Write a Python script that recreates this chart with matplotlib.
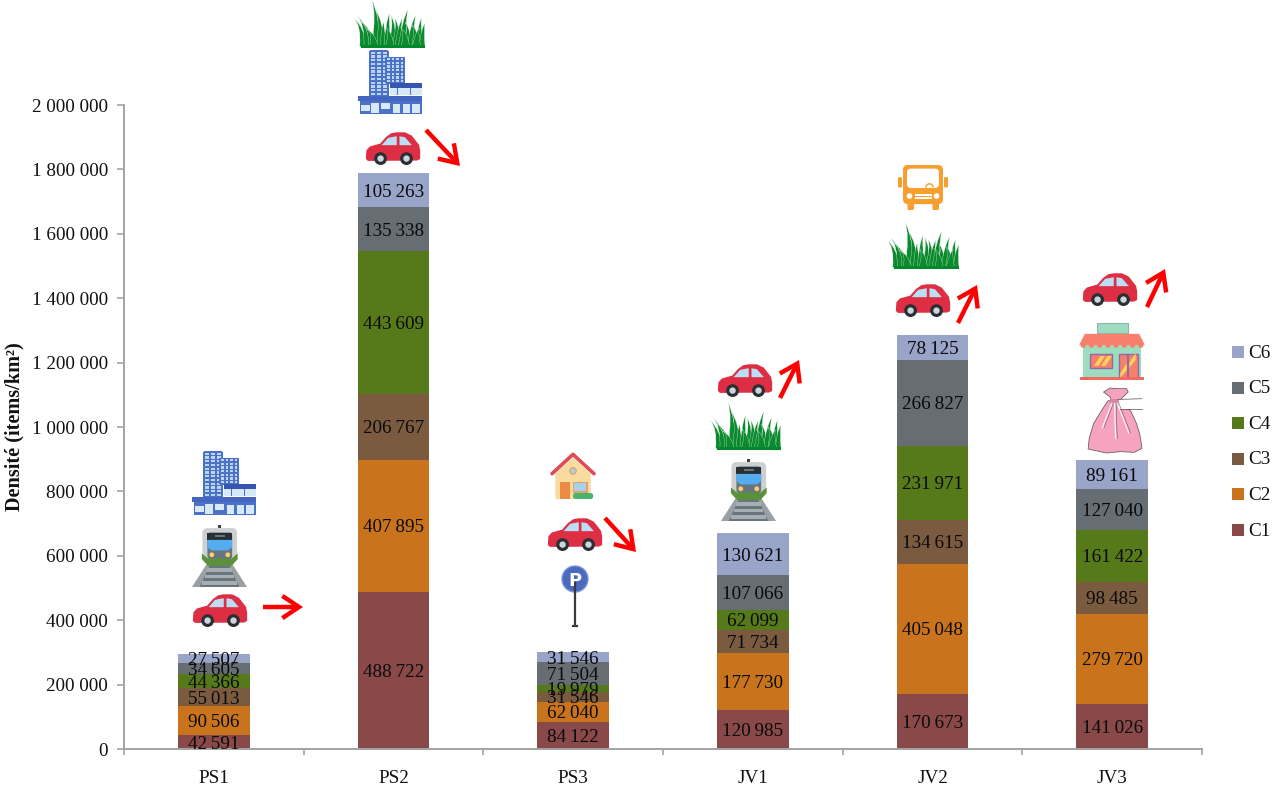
import numpy as np
import matplotlib
matplotlib.use("Agg")
import matplotlib.pyplot as plt
from matplotlib.patches import Polygon, Circle, FancyBboxPatch, Rectangle, PathPatch, FancyArrowPatch, Wedge
from matplotlib.path import Path

plt.rcParams["font.family"] = ["Liberation Serif", "DejaVu Serif"]

# Densities per site and class
sites = ["PS1", "PS2", "PS3", "JV1", "JV2", "JV3"]
C1 = [42591, 488722, 84122, 120985, 170673, 141026]
C2 = [90506, 407895, 62040, 177730, 405048, 279720]
C3 = [55013, 206767, 31546, 71734, 134615, 98485]
C4 = [44366, 443609, 19979, 62099, 231971, 161422]
C5 = [34605, 135338, 71504, 107066, 266827, 127040]
C6 = [27507, 105263, 31546, 130621, 78125, 89161]
class_names = ["C1", "C2", "C3", "C4", "C5", "C6"]
class_values = [C1, C2, C3, C4, C5, C6]
class_colors = ["#8A4949", "#C9741D", "#7A5B40", "#567A1A", "#666E74", "#99A4C9"]
y_ticks = [0, 200000, 400000, 600000, 800000, 1000000, 1200000, 1400000,
           1600000, 1800000, 2000000]

W, H = 1278, 789
AX_L, AX_R, AX_T, AX_B = 124, 1202, 105, 749
GREY = "#A3A3A3"
TEXT = "#111111"
FS = 13.8


def spaced(v, sep=" "):
    return f"{v:,}".replace(",", sep)


fig = plt.figure(figsize=(W / 100, H / 100), dpi=100, facecolor="white")
ax = fig.add_axes([AX_L / W, 1 - AX_B / H, (AX_R - AX_L) / W, (AX_B - AX_T) / H])

x = np.arange(len(sites))
bottom = np.zeros(len(sites))
for name, vals, col in zip(class_names, class_values, class_colors):
    vals = np.array(vals)
    ax.bar(x, vals, 0.4, bottom=bottom, color=col, label=name, linewidth=0)
    for xi, b, v in zip(x, bottom, vals):
        ax.text(xi, b + v / 2, spaced(int(v), "\u2009"), ha="center", va="center_baseline",
                fontsize=FS, color="#0A0A0A")
    bottom = bottom + vals

ax.set_xlim(-0.5, 5.5)
ax.set_ylim(0, 2000000)
ax.set_yticks(y_ticks)
ax.set_yticklabels([spaced(v) for v in y_ticks], fontsize=FS, color=TEXT)
ax.set_xticks(np.arange(-0.5, 6, 1))
ax.set_xticklabels([])
ax.set_xticks(x, minor=True)
ax.set_xticklabels(sites, minor=True, fontsize=FS, color=TEXT)
ax.tick_params(axis="x", which="minor", length=0, pad=15)
ax.tick_params(axis="x", which="major", length=4.3, width=1.2, color=GREY)
ax.tick_params(axis="y", length=5, width=1.2, color=GREY, pad=6.5)
for s in ("top", "right"):
    ax.spines[s].set_visible(False)
for s in ("left", "bottom"):
    ax.spines[s].set_color(GREY)
    ax.spines[s].set_linewidth(1.4)

# Class key, top class first
for i, (name, col) in enumerate(zip(class_names[::-1], class_colors[::-1])):
    ly = 352 + i * 35.6
    fig.patches.append(Rectangle((1232 / W, 1 - (ly + 6) / H), 12 / W, 12 / H,
                                 transform=fig.transFigure, color=col, linewidth=0))
    fig.text(1248 / W, 1 - (ly + 1) / H, name, fontsize=FS, color=TEXT, va="center", ha="left")

fig.text(14 / W, 1 - 427 / H, "Densité (items/km²)", rotation=90, fontsize=14.6,
         fontweight="bold", ha="center", va="center", color=TEXT)

# Overlay in pixel units for the pictograms
ov = fig.add_axes([0, 0, 1, 1], zorder=5)
ov.set_xlim(0, W)
ov.set_ylim(H, 0)
ov.axis("off")
ov.patch.set_alpha(0)


def box(x0, y0, w, h):
    """Map unit coordinates inside a pixel box to overlay coordinates."""
    return lambda pts: [(x0 + w * u, y0 + h * v) for u, v in pts]


def poly(pts, fc, ec=None, lw=0, **kw):
    ov.add_patch(Polygon(pts, closed=True, facecolor=fc, edgecolor=ec or fc, linewidth=lw,
                         joinstyle="round", **kw))


def rect(m, u0, v0, u1, v1, fc, **kw):
    poly(m([(u0, v0), (u1, v0), (u1, v1), (u0, v1)]), fc, **kw)


def rrect(m, u0, v0, u1, v1, r, fc, ec="none", lw=0):
    (a, b), (c, d) = m([(u0, v0), (u1, v1)])
    ov.add_patch(FancyBboxPatch((a + r, b + r), c - a - 2 * r, d - b - 2 * r,
                                boxstyle=f"round,pad={r},rounding_size={r}",
                                facecolor=fc, edgecolor=ec, linewidth=lw))


def car(x0, y0, w=54, h=32):
    m = box(x0, y0, w, h)
    poly(m([(0.01, 0.80), (0.02, 0.55), (0.08, 0.44), (0.27, 0.35), (0.38, 0.14), (0.47, 0.03),
            (0.56, 0.0), (0.72, 0.0), (0.84, 0.10), (0.97, 0.38), (0.99, 0.55), (0.99, 0.80),
            (0.94, 0.84), (0.04, 0.85)]), "#DD2E44", lw=1.0)
    poly(m([(0.29, 0.38), (0.41, 0.15), (0.57, 0.10), (0.57, 0.38)]), "#BBDDF5")
    poly(m([(0.62, 0.10), (0.72, 0.13), (0.85, 0.38), (0.62, 0.38)]), "#BBDDF5")
    for u in (0.27, 0.75):
        cx, cy = m([(u, 0.80)])[0]
        ov.add_patch(Circle((cx, cy), h * 0.2, fc="#292F33", ec="none"))
        ov.add_patch(Circle((cx, cy), h * 0.1, fc="#CCD6DD", ec="none"))


def train(x0, y0, w=55, h=62):
    m = box(x0, y0, w, h)
    poly(m([(0.0, 1.0), (0.26, 0.64), (0.74, 0.64), (1.0, 1.0)]), "#9AA0A4")
    poly(m([(0.14, 1.0), (0.33, 0.64), (0.67, 0.64), (0.86, 1.0)]), "#66757F")
    for v0, v1, sh in ((0.70, 0.76, 0.02), (0.80, 0.86, 0.07), (0.91, 0.97, 0.12)):
        rect(m, 0.30 - sh, v0, 0.70 + sh, v1, "#A8ADB0")
    rect(m, 0.47, 0.0, 0.53, 0.05, "#3A4045")
    rrect(m, 0.19, 0.05, 0.82, 0.60, 5, "#CCD0D3")
    rrect(m, 0.28, 0.12, 0.73, 0.55, 3, "#66757F")
    rect(m, 0.28, 0.13, 0.73, 0.24, "#292F33")
    rect(m, 0.41, 0.16, 0.60, 0.20, "#66757F")
    poly(m([(0.28, 0.24), (0.73, 0.24), (0.73, 0.36), (0.65, 0.41), (0.36, 0.41), (0.28, 0.36)]),
         "#55ACEE")
    for u in (0.36, 0.65):
        ov.add_patch(Circle(m([(u, 0.48)])[0], 2.4, fc="#FFCC66", ec="none"))
    poly(m([(0.18, 0.46), (0.29, 0.54), (0.72, 0.54), (0.83, 0.46), (0.83, 0.55), (0.72, 0.66),
            (0.29, 0.66), (0.18, 0.55)]), "#5C913B")


def building(x0, y0, w=64, h=63):
    m = box(x0, y0, w, h)
    blue, pale, deep = "#4C72C8", "#BCD6F2", "#3555B0"
    for u0, u1, v0, v1, nc, nr in ((0.185, 0.47, 0.0, 0.71, 3, 12), (0.44, 0.72, 0.10, 0.51, 4, 7)):
        rect(m, u0, v0, u1, v1, pale)
        for uu in np.linspace(u0, u1, nc + 1):
            rect(m, uu - 0.017, v0, uu + 0.017, v1, blue)
        for vv in np.linspace(v0, v1, nr + 1):
            rect(m, u0, vv - 0.011, u1, vv + 0.011, blue)
    rect(m, 0.50, 0.50, 1.0, 0.59, deep)
    rect(m, 0.50, 0.59, 1.0, 0.70, "#D5E9F8")
    for u in (0.62, 0.82):
        rect(m, u - 0.006, 0.59, u + 0.006, 0.70, blue)
    rect(m, 0.0, 0.71, 1.0, 0.80, "#4466C0")
    rect(m, 0.03, 0.80, 1.0, 1.0, blue)
    for u0, u1, v0, v1 in ((0.05, 0.18, 0.86, 0.96), (0.21, 0.33, 0.83, 0.99), (0.36, 0.50, 0.83, 0.92),
                           (0.55, 0.66, 0.84, 0.99), (0.70, 0.82, 0.84, 0.99), (0.85, 0.97, 0.84, 0.99)):
        rect(m, u0, v0, u1, v1, "#D5E9F8")


# Blades: base position, tip position, tip height, half width at the base
GRASS_BLADES = [(0.13, 0.0, 0.62, 0.05), (0.19, 0.04, 0.68, 0.05), (0.25, 0.10, 0.55, 0.045),
                (0.31, 0.25, 1.0, 0.06), (0.37, 0.30, 0.80, 0.055), (0.42, 0.42, 0.55, 0.05),
                (0.47, 0.50, 0.72, 0.05), (0.53, 0.52, 0.68, 0.05), (0.58, 0.57, 0.64, 0.05),
                (0.63, 0.68, 0.62, 0.05), (0.68, 0.76, 0.80, 0.055), (0.74, 0.72, 0.54, 0.05),
                (0.80, 0.87, 0.68, 0.05), (0.86, 0.80, 0.52, 0.05), (0.92, 0.95, 0.62, 0.05),
                (0.96, 1.0, 0.52, 0.04), (0.50, 0.44, 0.45, 0.06), (0.72, 0.65, 0.44, 0.06),
                (0.88, 0.92, 0.42, 0.06), (0.28, 0.18, 0.40, 0.06)]


def grass(x0, y0, w=71, h=48):
    m = box(x0, y0, w, h)
    col = "#0B8A2E"
    for bu, tu, th, hw in GRASS_BLADES:
        lean = 0.05 if tu < bu else -0.03
        (a, b), (c, d), (e, f), (g, k), (g2, k2) = m([(bu - hw, 0.97), (tu, 1 - th), (bu + hw, 0.97),
                                                      ((bu + tu) / 2 - 0.01 + lean, 1 - th * 0.75),
                                                      ((bu + tu) / 2 + 0.03 + lean, 1 - th * 0.7)])
        verts = [(a, b), (g, k), (c, d), (g2, k2), (e, f), (a, b)]
        codes = [Path.MOVETO, Path.CURVE3, Path.CURVE3, Path.CURVE3, Path.CURVE3, Path.CLOSEPOLY]
        ov.add_patch(PathPatch(Path(verts, codes), fc=col, ec="white", lw=0.2))
    rect(m, 0.10, 0.93, 1.0, 1.0, "#00882B")


def bus(x0, y0, w=50, h=45):
    m = box(x0, y0, w, h)
    col = "#F79F2E"
    rrect(m, 0.0, 0.27, 0.08, 0.50, 1.2, col)
    rrect(m, 0.92, 0.27, 1.0, 0.50, 1.2, col)
    rrect(m, 0.19, 0.85, 0.32, 1.0, 1.5, col)
    rrect(m, 0.69, 0.85, 0.82, 1.0, 1.5, col)
    rrect(m, 0.10, 0.0, 0.90, 0.87, 5, col)
    rrect(m, 0.18, 0.08, 0.82, 0.51, 4, "white")
    ov.add_patch(Wedge(m([(0.63, 0.50)])[0], 4.4, 180, 360, width=1.5, fc=col))
    for u in (0.23, 0.77):
        ov.add_patch(Circle(m([(u, 0.69)])[0], 2.8, fc="white", ec="none"))
    rect(m, 0.33, 0.64, 0.67, 0.68, "white")
    rect(m, 0.33, 0.72, 0.67, 0.76, "white")


def house(x0, y0, w=42, h=46):
    m = box(x0, y0, w, h)
    poly(m([(0.08, 0.45), (0.5, 0.1), (0.92, 0.45), (0.92, 1.0), (0.08, 1.0)]), "#FADB9F")
    ov.plot(*zip(*m([(0.0, 0.45), (0.5, 0.03), (1.0, 0.45)])), color="#DD4B55", lw=2.6,
            solid_capstyle="round", solid_joinstyle="round")
    ov.add_patch(Circle(m([(0.5, 0.39)])[0], 3.2, fc="#A6D1EE", ec="#E79A55", lw=0.8))
    rect(m, 0.19, 0.62, 0.43, 0.99, "#EC8A42")
    rect(m, 0.50, 0.62, 0.85, 0.86, "#E9A063")
    rect(m, 0.53, 0.66, 0.82, 0.82, "#A6D1EE")
    rrect(m, 0.50, 0.87, 0.98, 1.0, 2.5, "#49B56C")


def parking(cx, cy, bottom_y, r=13):
    ov.plot([cx, cx], [cy, bottom_y], color="#3A3A3A", lw=1.6, solid_capstyle="butt")
    ov.plot([cx - 2, cx + 2], [bottom_y, bottom_y], color="#3A3A3A", lw=1.6)
    ov.add_patch(Circle((cx, cy), r, fc="#4A69BF", ec="#7D96D6", lw=1))
    ov.text(cx, cy, "P", color="white", fontsize=13, fontweight="bold", ha="center",
            va="center_baseline", family="DejaVu Sans")


def shop(x0, y0, w=64, h=57):
    m = box(x0, y0, w, h)
    mint, coral, frame = "#9EDCBF", "#F6806C", "#8E6BA8"
    rect(m, 0.27, 0.0, 0.75, 0.17, mint, ec="#8FB7B0", lw=0.8)
    rect(m, 0.05, 0.38, 0.95, 0.97, mint)
    poly(m([(0.08, 0.20), (0.92, 0.20), (1.0, 0.38), (0.0, 0.38)]), coral, lw=0.8)
    for u in np.linspace(0.05, 0.95, 8):
        ov.add_patch(Circle(m([(u, 0.39)])[0], 2.6, fc=coral, ec="none"))
    rect(m, 0.16, 0.54, 0.50, 0.79, coral, ec=frame, lw=1.0)
    for u in (0.27, 0.38):
        poly(m([(u - 0.05, 0.75), (u + 0.02, 0.75), (u + 0.12, 0.58), (u + 0.05, 0.58)]), "#FFD45E")
    rect(m, 0.61, 0.54, 0.90, 0.97, coral, ec=frame, lw=1.0)
    rect(m, 0.74, 0.54, 0.765, 0.97, frame)
    for u, v in ((0.68, 0.88), (0.82, 0.70)):
        poly(m([(u - 0.05, v), (u + 0.05, v - 0.17), (u + 0.05, v - 0.05), (u - 0.05, v + 0.08)]), "#FFD45E")
    rect(m, 0.0, 0.95, 1.0, 1.0, "#F36A63")


def bag(x0, y0, w=55, h=67):
    m = box(x0, y0, w, h)
    pink, dark = "#F5A3BF", "#5A4A50"
    poly(m([(0.38, 0.22), (0.62, 0.22), (0.80, 0.38), (0.90, 0.56), (0.96, 0.72), (1.0, 0.93),
            (0.86, 0.99), (0.60, 0.98), (0.35, 1.0), (0.02, 0.94), (0.04, 0.78), (0.12, 0.56),
            (0.27, 0.36)]), pink, ec=dark, lw=0.5)
    poly(m([(0.30, 0.09), (0.42, 0.03), (0.55, 0.04), (0.72, 0.04), (0.75, 0.09), (0.62, 0.19),
            (0.58, 0.25), (0.42, 0.25), (0.43, 0.17)]), pink, ec=dark, lw=0.5)
    rect(m, 0.42, 0.20, 0.58, 0.26, "#D9899F")
    for a, b in (((0.45, 0.26), (0.28, 0.62)), ((0.50, 0.26), (0.52, 0.78)), ((0.55, 0.26), (0.76, 0.70))):
        ov.plot(*zip(*m([a, b])), color="white", lw=0.9, alpha=0.85)
        ov.plot(*zip(*m([(a[0] + 0.03, a[1]), (b[0] + 0.03, b[1])])), color=dark, lw=0.35)
    rect(m, 0.58, 0.20, 1.0, 0.34, "white")
    ov.plot(*zip(*m([(0.56, 0.20), (1.0, 0.19)])), color=dark, lw=0.5)
    ov.plot(*zip(*m([(0.60, 0.34), (1.0, 0.34)])), color=dark, lw=0.5)


def trend(x0, y0, x1, y1):
    ov.add_patch(FancyArrowPatch((x0, y0), (x1, y1), arrowstyle="->,head_length=1.2,head_width=0.8",
                                 mutation_scale=10, color="#FF0000", lw=3.2,
                                 shrinkA=0, shrinkB=0, joinstyle="miter", capstyle="butt"))


# Column PS1
building(192, 452)
train(192, 525)
car(193, 595)
trend(263, 607, 303, 607)
# Column PS2
grass(354, 0)
building(358, 51)
car(366, 133)
trend(426, 130, 460, 166)
# Column PS3
house(552, 453)
car(548, 519)
trend(605, 518, 636, 552)
parking(575, 579, 626)
# Column JV1
car(718, 365)
trend(780, 398, 799, 360)
grass(710, 402)
train(721, 459)
# Column JV2
bus(898, 165)
grass(887, 222, 72, 47)
car(896, 285)
trend(958, 323, 977, 285)
# Column JV3
car(1083, 274)
trend(1147, 307, 1165, 269)
shop(1080, 323)
bag(1087, 386)

fig.savefig("out.png", dpi=100, facecolor="white")
